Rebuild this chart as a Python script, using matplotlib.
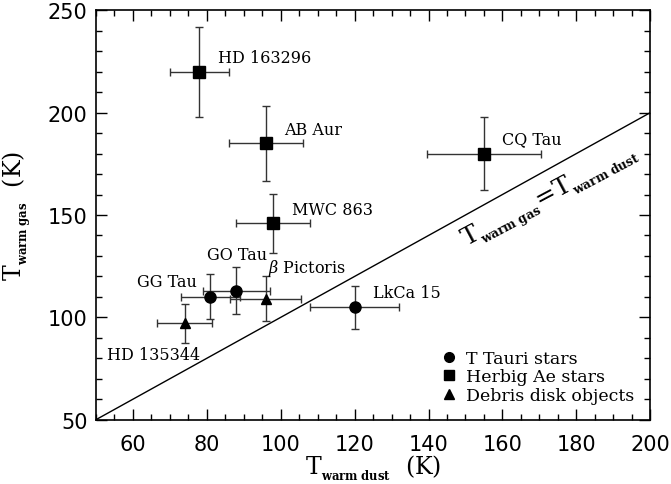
import numpy as np
import matplotlib
matplotlib.use("Agg")
import matplotlib.pyplot as plt
from matplotlib.lines import Line2D
from matplotlib.ticker import MultipleLocator

plt.rcParams['mathtext.fontset'] = 'dejavuserif'

# objects: name, T dust, T gas, errors, kind
names = ['HD 163296', 'AB Aur', 'MWC 863', 'CQ Tau', 'GG Tau', 'GO Tau',
         'LkCa 15', 'HD 135344', r'$\beta$ Pictoris']
t_dust = [78, 96, 98, 155, 81, 88, 120, 74, 96]
t_gas = [220, 185, 146, 180, 110, 113, 105, 97, 109]
err_dust = [8, 10, 10, 15.5, 8, 9, 12, 7.5, 9.6]
err_gas = [22, 18.5, 14.5, 18, 11, 11.5, 10.5, 9.7, 11]
kinds = ['Herbig Ae', 'Herbig Ae', 'Herbig Ae', 'Herbig Ae', 'T Tauri',
         'T Tauri', 'T Tauri', 'Debris', 'Debris']
# label positions (data units)
lab_x = [83, 101, 103, 159.8, 61, 80, 125, 53, 96.5]
lab_y = [227, 192, 152.5, 187.3, 117.3, 130.5, 112, 82, 124.5]

markers = {'T Tauri': 'o', 'Herbig Ae': 's', 'Debris': '^'}
msizes = {'T Tauri': 8, 'Herbig Ae': 8.5, 'Debris': 7.5}
legend_labels = ['T Tauri stars', 'Herbig Ae stars', 'Debris disk objects']

fig = plt.figure(figsize=(6.71, 4.85), dpi=100)
ax = fig.add_axes([0.143, 0.1326, 0.826, 0.844])

# one-to-one line
ax.plot([50, 200], [50, 200], color='black', lw=1.0)

for i in range(len(names)):
    ax.errorbar(t_dust[i], t_gas[i], xerr=err_dust[i], yerr=err_gas[i],
                fmt=markers[kinds[i]], ms=msizes[kinds[i]], color='black',
                ecolor='#333333', elinewidth=1.0, capsize=3, capthick=1.0,
                zorder=3)
    ax.text(lab_x[i], lab_y[i], names[i], family='DejaVu Serif', fontsize=11.5,
            ha='left', va='center')

ax.text(173, 159, r'T$_{_{\mathbf{warm\ gas}}}$=T$_{_{\mathbf{warm\ dust}}}$',
        fontsize=18, rotation=28, ha='center', va='center',
        rotation_mode='anchor', family='DejaVu Serif')

ax.set_xlim(50, 200)
ax.set_ylim(50, 250)
ax.xaxis.set_major_locator(MultipleLocator(20))
ax.xaxis.set_minor_locator(MultipleLocator(5))
ax.yaxis.set_major_locator(MultipleLocator(50))
ax.yaxis.set_minor_locator(MultipleLocator(10))
ax.tick_params(which='both', direction='in', top=True, right=True, width=1.0)
ax.tick_params(which='major', length=8, labelsize=15)
ax.tick_params(axis='x', which='major', pad=10)
ax.tick_params(axis='y', which='major', pad=6)
ax.tick_params(which='minor', length=4)
for s in ax.spines.values():
    s.set_linewidth(1.2)

xl = ax.set_xlabel(r'T$_{_{\mathbf{warm\ dust}}}$  (K)', fontsize=17,
                   family='DejaVu Serif')
xl.set_va('center')
ax.xaxis.set_label_coords(0.5, -0.115)
ax.set_ylabel(r'T$_{_{\mathbf{warm\ gas}}}$  (K)', fontsize=17,
              family='DejaVu Serif', labelpad=10)

handles = [Line2D([], [], ls='none', marker=markers[k], ms=7, color='black')
           for k in ['T Tauri', 'Herbig Ae', 'Debris']]
ax.legend(handles, legend_labels, loc='lower right', frameon=False,
          prop={'family': 'DejaVu Serif', 'size': 12.5}, handlelength=1.0,
          handletextpad=0.5, labelspacing=0.1, borderaxespad=0.5)

fig.savefig('out.png', dpi=100)
